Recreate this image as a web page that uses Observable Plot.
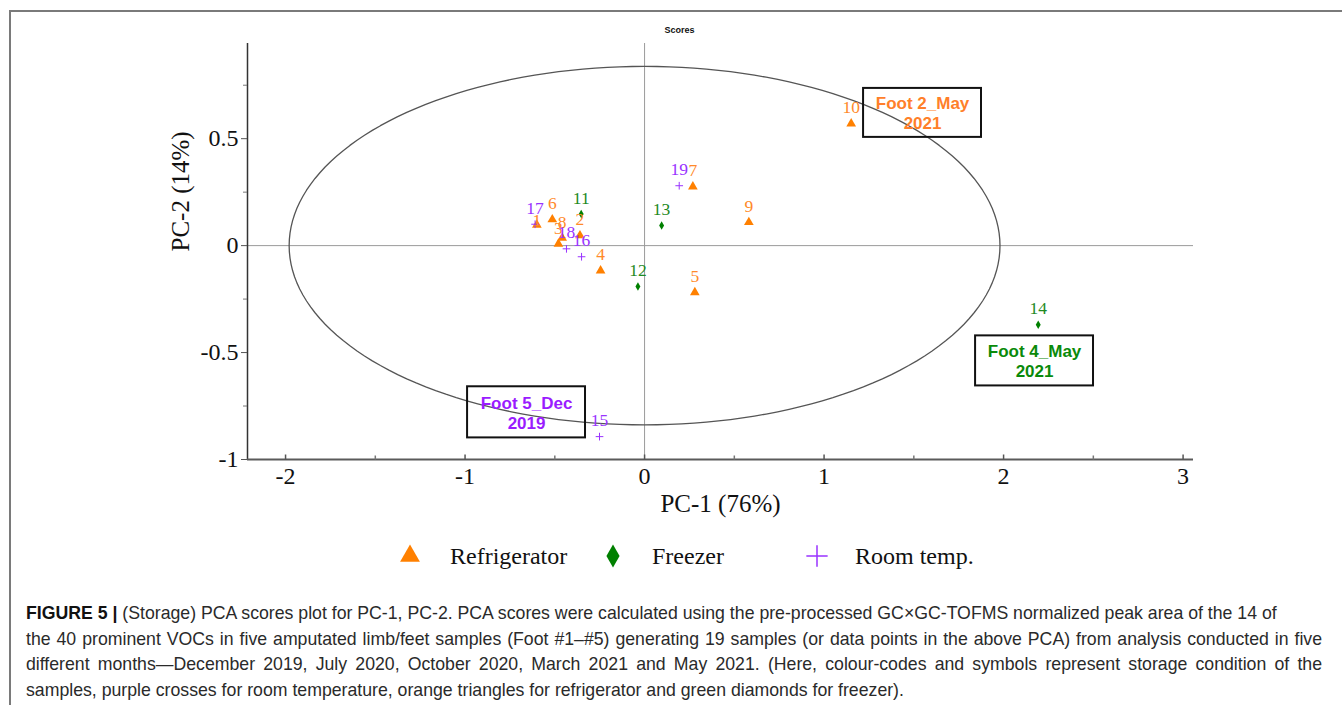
<!DOCTYPE html>
<html>
<head>
<meta charset="utf-8">
<script src="https://cdn.jsdelivr.net/npm/d3@7"></script>
<script src="https://cdn.jsdelivr.net/npm/@observablehq/plot@0.6"></script>
<style>
  html, body { margin: 0; padding: 0; background: #fff; }
  #root { position: relative; width: 1342px; height: 705px; overflow: hidden; }
  #frame { position: absolute; left: 9px; top: 10px; right: -5px; bottom: -5px;
           border-top: 2px solid #7a7a7a; border-left: 2px solid #7a7a7a; pointer-events: none; }
  #chart { position: absolute; left: 0; top: 0; }
  #legend { position: absolute; left: 0; top: 540px; width: 1342px; height: 32px;
            font-family: "Liberation Serif", "Times New Roman", serif; font-size: 24px; color: #111; }
  #legend .item { position: absolute; top: 0; height: 32px; line-height: 32px; white-space: nowrap; }
  #legend svg { position: absolute; top: 0; }
  #caption { position: absolute; left: 26px; top: 601px; width: 1296px;
             font-family: "Liberation Sans", Arial, sans-serif; font-size: 17.7px; line-height: 25.5px;
             color: #2a2a2a; }
  #caption div { white-space: nowrap; }
  #caption div.j { text-align: justify; text-align-last: justify; white-space: normal; }
  #caption b { color: #111; }
</style>
</head>
<body>
<div id="root">
  <div id="chart"></div>
  <div id="legend"></div>
  <div id="caption"></div>
  <div id="frame"></div>
</div>
<script>
// ---------- data ----------
const refrigeratorIds = [1, 2, 3, 4, 5, 6, 7, 8, 9, 10];
const refrigeratorPC1 = [-0.60, -0.36, -0.48, -0.245, 0.28, -0.514, 0.269, -0.459, 0.581, 1.151];
const refrigeratorPC2 = [0.097, 0.047, 0.008, -0.117, -0.219, 0.122, 0.276, 0.036, 0.109, 0.570];

const freezerIds = [11, 12, 13, 14];
const freezerPC1 = [-0.353, -0.037, 0.095, 2.193];
const freezerPC2 = [0.148, -0.191, 0.094, -0.370];

const roomIds = [15, 16, 17, 18, 19];
const roomPC1 = [-0.251, -0.351, -0.61, -0.435, 0.193];
const roomPC2 = [-0.893, -0.052, 0.100, -0.015, 0.280];

const legendLabels = ["Refrigerator", "Freezer", "Room temp."];
const xTickValues = [-2, -1, 0, 1, 2, 3];
const xMinorTickValues = [-1.5, -0.5, 0.5, 1.5, 2.5];
const yTickValues = [0.5, 0, -0.5, -1];
const yMinorTickValues = [0.75, 0.25, -0.25, -0.75];
const ellipseRadii = [1.98, 0.838];   // Hotelling T2 ellipse semi-axes (PC-1, PC-2)

const boxTexts = ["Foot 2_May\n2021", "Foot 4_May\n2021", "Foot 5_Dec\n2019"];
const boxGroups = ["Refrigerator", "Freezer", "Room temp."];
const boxX1 = [1.220, 1.844, -0.986];
const boxX2 = [1.877, 2.501, -0.329];
const boxY1 = [0.735, -0.422, -0.660];
const boxY2 = [0.506, -0.656, -0.899];

const captionLines = [
  "(Storage) PCA scores plot for PC-1, PC-2. PCA scores were calculated using the pre-processed GC×GC-TOFMS normalized peak area of the 14 of",
  "the 40 prominent VOCs in five amputated limb/feet samples (Foot #1–#5) generating 19 samples (or data points in the above PCA) from analysis conducted in five",
  "different months—December 2019, July 2020, October 2020, March 2021 and May 2021. (Here, colour-codes and symbols represent storage condition of the",
  "samples, purple crosses for room temperature, orange triangles for refrigerator and green diamonds for freezer)."
];

// ---------- styles ----------
const colors = {"Refrigerator": "#ff8000", "Freezer": "#008000", "Room temp.": "#9933ff"};
const labelColors = {"Refrigerator": "#ff8a2a", "Freezer": "#1f8a1f", "Room temp.": "#9933ff"};
const boxColors = {"Refrigerator": "#ff7f2a", "Freezer": "#0a8a0a", "Room temp.": "#9a1cff"};
const labelDy = {1: -4};

const build = (ids, xs, ys, group) => ids.map((id, i) => ({id, x: xs[i], y: ys[i], group}));
const refr = build(refrigeratorIds, refrigeratorPC1, refrigeratorPC2, "Refrigerator");
const frz = build(freezerIds, freezerPC1, freezerPC2, "Freezer");
const room = build(roomIds, roomPC1, roomPC2, "Room temp.");
const allPts = [...refr, ...frz, ...room];

const boxes = boxTexts.map((t, i) => ({text: t, group: boxGroups[i], x1: boxX1[i], x2: boxX2[i], y1: boxY1[i], y2: boxY2[i]}));

const ellipse = d3.range(0, 361, 2).map(a => ({
  x: ellipseRadii[0] * Math.cos(a * Math.PI / 180),
  y: ellipseRadii[1] * Math.sin(a * Math.PI / 180)
}));

const xDomain = [-2.212, 3.058];
const yDomain = [-1.0, 0.945];

const tickUp = (len) => ({draw(ctx) { ctx.moveTo(0, 0); ctx.lineTo(0, -len); }});

const serif = "Liberation Serif, Times New Roman, serif";

const chart = Plot.plot({
  width: 1342,
  height: 530,
  marginLeft: 247,
  marginRight: 149,
  marginTop: 43,
  marginBottom: 71,
  style: {fontFamily: serif, background: "transparent", color: "#111", overflow: "visible"},
  x: {domain: xDomain},
  y: {domain: yDomain},
  marks: [
    Plot.ruleX([0], {stroke: "#9a9a9a", strokeWidth: 1}),
    Plot.ruleY([0], {stroke: "#9a9a9a", strokeWidth: 1}),
    Plot.line(ellipse, {x: "x", y: "y", stroke: "#555", strokeWidth: 1.3}),
    Plot.ruleX([xDomain[0]], {stroke: "#333", strokeWidth: 1.5}),
    Plot.ruleY([yDomain[0]], {stroke: "#5a5a5a", strokeWidth: 2}),
    Plot.axisY({ticks: yTickValues, tickSize: 6, tickPadding: 3, fontSize: 24, stroke: "#555",
                tickFormat: d => String(d), fill: "#111"}),
    Plot.axisY({ticks: yMinorTickValues, tickSize: 4, fontSize: 1, stroke: "#777", tickFormat: () => ""}),
    Plot.axisX({ticks: xTickValues, tickSize: 0, tickPadding: 7, fontSize: 24,
                tickFormat: d => String(d), fill: "#111"}),
    Plot.dot(xTickValues, {x: d => d, y: () => yDomain[0], symbol: tickUp(5), stroke: "#555", fill: "none"}),
    Plot.dot(xMinorTickValues, {x: d => d, y: () => yDomain[0], symbol: tickUp(4), stroke: "#777", fill: "none"}),
    Plot.rect(boxes, {x1: "x1", x2: "x2", y1: "y1", y2: "y2", fill: "none", stroke: "#111", strokeWidth: 2}),
    Plot.text(boxes, {x: d => (d.x1 + d.x2) / 2, y: d => (d.y1 + d.y2) / 2, text: "text",
                      fill: d => boxColors[d.group], fontWeight: "bold", fontSize: 17, lineHeight: 1.18,
                      fontFamily: "Liberation Sans, Arial, sans-serif"}),
    Plot.dot(refr, {x: "x", y: "y", symbol: "triangle", r: 3.6, fill: colors["Refrigerator"], stroke: "none"}),
    Plot.dot(frz, {x: "x", y: "y", symbol: "diamond", r: 2.6, fill: colors["Freezer"], stroke: "none"}),
    Plot.dot(room, {x: "x", y: "y", symbol: "plus", r: 2.6, stroke: colors["Room temp."], fill: "none", strokeWidth: 1}),
    Plot.text(allPts, {x: "x", y: "y", text: d => String(d.id),
                      fill: d => labelColors[d.group], fontSize: 17.5, fontFamily: serif}),
    Plot.text(["Scores"], {frameAnchor: "top", dx: -41, dy: -17, fontSize: 9, fontWeight: "bold",
                           fontFamily: "Liberation Sans Narrow, Arial Narrow, Liberation Sans, sans-serif", fill: "#111"}),
    Plot.text(["PC-1 (76%)"], {frameAnchor: "bottom", dy: 52, fontSize: 25, fontFamily: serif, fill: "#111"}),
    Plot.text(["PC-2 (14%)"], {frameAnchor: "left", dx: -67, rotate: -90, fontSize: 25, fontFamily: serif, fill: "#111"})
  ]
});
document.getElementById("chart").appendChild(chart);
</script>
<script>
// place each point label above its marker
(function () {
  const svg = document.querySelector("#chart svg");
  const groups = svg.querySelectorAll("g[aria-label='text']");
  groups.forEach(g => {
    const texts = g.querySelectorAll("text");
    if (texts.length === allPts.length) {
      texts.forEach((t, i) => {
        const d = allPts[i];
        const off = labelDy[d.id] !== undefined ? labelDy[d.id] : -16;
        const cur = t.getAttribute("transform") || "";
        t.setAttribute("transform", cur + ` translate(0,${off})`);
      });
    }
  });
})();

// ---------- legend ----------
(function () {
  const leg = document.getElementById("legend");
  const items = [
    {label: legendLabels[0], sym: d3.symbolTriangle, size: 170, fill: colors["Refrigerator"], stroke: "none", cx: 410, tx: 450},
    {label: legendLabels[1], sym: d3.symbolDiamond, size: 150, fill: colors["Freezer"], stroke: "none", cx: 613, tx: 652},
    {label: legendLabels[2], sym: d3.symbolPlus, size: 150, fill: "none", stroke: colors["Room temp."], cx: 817, tx: 855}
  ];
  items.forEach(it => {
    const s = d3.create("svg").attr("width", 30).attr("height", 32)
      .style("left", (it.cx - 15) + "px");
    s.append("path").attr("d", d3.symbol(it.sym, it.size)()).attr("transform", "translate(15,16)")
      .attr("fill", it.fill).attr("stroke", it.stroke).attr("stroke-width", 1.5);
    leg.appendChild(s.node());
    const span = document.createElement("span");
    span.className = "item";
    span.style.left = it.tx + "px";
    span.textContent = it.label;
    leg.appendChild(span);
  });
})();

// ---------- caption ----------
(function () {
  const cap = document.getElementById("caption");
  captionLines.forEach((line, i) => {
    const div = document.createElement("div");
    if (i === 1 || i === 2) div.className = "j";
    if (i === 0) {
      const b = document.createElement("b");
      b.textContent = "FIGURE 5 |";
      div.appendChild(b);
      div.appendChild(document.createTextNode(" " + line));
    } else {
      div.textContent = line;
    }
    cap.appendChild(div);
  });
})();
</script>
</body>
</html>
